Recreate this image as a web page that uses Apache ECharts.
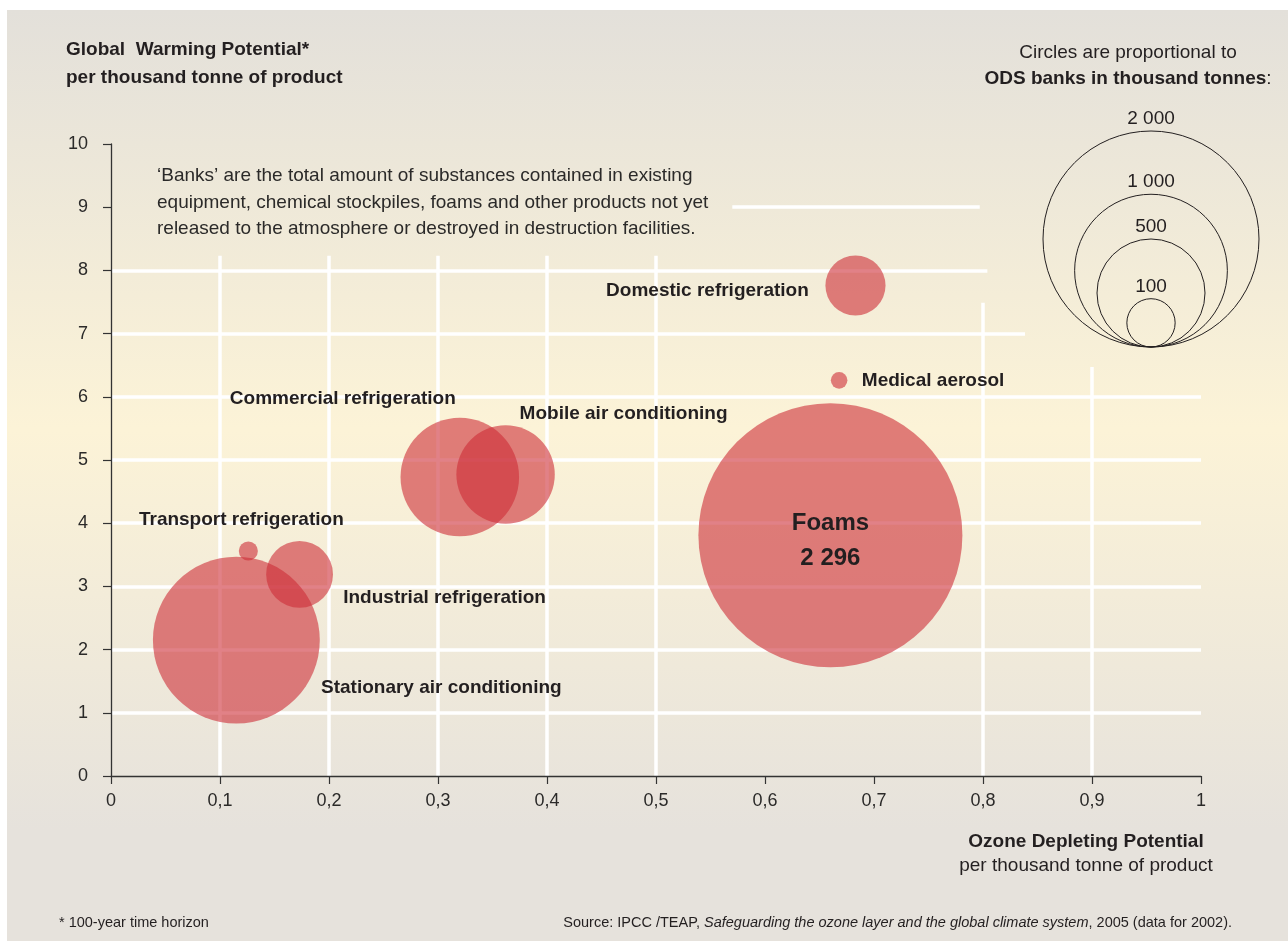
<!DOCTYPE html>
<html>
<head>
<meta charset="utf-8">
<title>ODS banks</title>
<script src="https://cdn.jsdelivr.net/npm/echarts@6.0.0/dist/echarts.min.js"></script>
<style>
  html, body { margin: 0; padding: 0; background: #fff; }
  #main { width: 1288px; height: 941px; }
</style>
</head>
<body>
<div id="main"></div>
<script>
// sectors, ODP (x), GWP (y), ODS banks in thousand tonnes (bubble area)
var sectors = ['Foams', 'Stationary air conditioning', 'Commercial refrigeration', 'Mobile air conditioning',
               'Industrial refrigeration', 'Domestic refrigeration', 'Transport refrigeration', 'Medical aerosol'];
var odp   = [0.660, 0.115, 0.320, 0.362, 0.173, 0.683, 0.126, 0.668];
var gwp   = [3.81, 2.15, 4.73, 4.77, 3.19, 7.76, 3.56, 6.26];
var banks = [2296, 917, 463, 319, 147, 119, 12, 9];

// size key
var legendBanks = [2000, 1000, 500, 100];

var xTickLabels = ['0', '0,1', '0,2', '0,3', '0,4', '0,5', '0,6', '0,7', '0,8', '0,9', '1'];
var yTickLabels = ['0', '1', '2', '3', '4', '5', '6', '7', '8', '9', '10'];

var FONT = '"Liberation Sans", Arial, Helvetica, sans-serif';
var INK = '#231f20';

// label placement relative to bubble centre (px)
var labelPlace = {
    'Foams': [0, 6],
    'Stationary air conditioning': [205, 48],
    'Commercial refrigeration': [-117, -78],
    'Mobile air conditioning': [118, -61],
    'Industrial refrigeration': [145, 23],
    'Domestic refrigeration': [-148, 5],
    'Transport refrigeration': [-7, -31],
    'Medical aerosol': [94, 0]
};

// the white grid is broken up around the notes, so draw it as segments
var hGrid = [[1, 0, 1], [2, 0, 1], [3, 0, 1], [4, 0, 1], [5, 0, 1], [6, 0, 1],
             [7, 0, 0.8385], [8, 0, 0.804], [9, 0.57, 0.797]];
var vGrid = [[0.1, 0, 8.23], [0.2, 0, 8.23], [0.3, 0, 8.23], [0.4, 0, 8.23], [0.5, 0, 8.23],
             [0.6, 0, 10.02], [0.7, 0, 10.02], [0.8, 0, 7.49], [0.9, 0, 6.47]];

function fmt(n) {
    return String(n).replace(/\B(?=(\d{3})+(?!\d))/g, ' ');
}
function bubbleSize(v) { return 264 * Math.sqrt(v / 2296); }
function keySize(v) { return 216 * Math.sqrt(v / 2000); }

var gridSegs = [];
hGrid.forEach(function (g) {
    gridSegs.push([{ coord: [g[1], g[0]] }, { coord: [g[2], g[0]] }]);
});
vGrid.forEach(function (g) {
    gridSegs.push([{ coord: [g[0], g[1]] }, { coord: [g[0], g[2]] }]);
});

var bubbleData = sectors.map(function (name, i) {
    return {
        name: name,
        value: [odp[i], gwp[i], banks[i]],
        label: { offset: labelPlace[name] }
    };
});

var keyData = legendBanks.map(function (v) {
    var s = keySize(v);
    return { value: [0, 0, v], symbolSize: s, symbolOffset: [0, -s / 2] };
});

var option = {
    animation: false,
    backgroundColor: '#ffffff',
    textStyle: { fontFamily: FONT },
    graphic: [
        {
            type: 'rect', z: -10, silent: true,
            shape: { x: 7, y: 10, width: 1281, height: 931 },
            style: {
                fill: new echarts.graphic.LinearGradient(0, 0, 0, 1, [
                    { offset: 0, color: '#e3e0da' },
                    { offset: 0.45, color: '#fcf3d7' },
                    { offset: 0.88, color: '#e6e2dc' },
                    { offset: 1, color: '#e6e2dc' }
                ])
            }
        },
        {
            type: 'text', x: 66, y: 50, silent: true,
            style: { text: 'Global  Warming Potential*', font: 'bold 19px ' + FONT, fill: INK, textVerticalAlign: 'middle' }
        },
        {
            type: 'text', x: 66, y: 78, silent: true,
            style: { text: 'per thousand tonne of product', font: 'bold 19px ' + FONT, fill: INK, textVerticalAlign: 'middle' }
        },
        {
            type: 'text', x: 1128, y: 53, silent: true,
            style: { text: 'Circles are proportional to', font: '19px ' + FONT, fill: INK, textAlign: 'center', textVerticalAlign: 'middle' }
        },
        {
            type: 'text', x: 1128, y: 79, silent: true,
            style: {
                text: '{b|ODS banks in thousand tonnes}{n|:}',
                textAlign: 'center', textVerticalAlign: 'middle',
                rich: {
                    b: { font: 'bold 19px ' + FONT, fill: INK },
                    n: { font: '19px ' + FONT, fill: INK }
                }
            }
        },
        {
            type: 'text', x: 157, y: 163, silent: true,
            style: {
                text: '\u2018Banks\u2019 are the total amount of substances contained in existing\n' +
                      'equipment, chemical stockpiles, foams and other products not yet\n' +
                      'released to the atmosphere or destroyed in destruction facilities.',
                font: '19px ' + FONT, fill: '#2b2a29', lineHeight: 26.5, textVerticalAlign: 'top'
            }
        },
        {
            type: 'text', x: 1086, y: 842, silent: true,
            style: { text: 'Ozone Depleting Potential', font: 'bold 19px ' + FONT, fill: INK, textAlign: 'center', textVerticalAlign: 'middle' }
        },
        {
            type: 'text', x: 1086, y: 866, silent: true,
            style: { text: 'per thousand tonne of product', font: '19px ' + FONT, fill: INK, textAlign: 'center', textVerticalAlign: 'middle' }
        },
        {
            type: 'text', x: 59, y: 923, silent: true,
            style: { text: '* 100-year time horizon', font: '14.5px ' + FONT, fill: INK, textVerticalAlign: 'middle' }
        },
        {
            type: 'text', x: 1232, y: 923, silent: true,
            style: {
                text: '{n|Source: IPCC /TEAP, }{i|Safeguarding the ozone layer and the global climate system}{n|, 2005 (data for 2002).}',
                textAlign: 'right', textVerticalAlign: 'middle',
                rich: {
                    n: { font: '14.5px ' + FONT, fill: INK },
                    i: { font: 'italic 14.5px ' + FONT, fill: INK }
                }
            }
        }
    ],
    grid: [
        { left: 111, right: 87, top: 144, bottom: 165 },
        { left: 1141, top: 337, width: 20, height: 20, show: false }
    ],
    xAxis: [
        {
            type: 'value', min: 0, max: 1, interval: 0.1, z: 5,
            axisLine: { show: true, lineStyle: { color: '#333', width: 1.3 } },
            axisTick: { show: true, length: 8, lineStyle: { color: '#333', width: 1.2 } },
            splitLine: { show: false },
            axisLabel: {
                margin: 16, fontSize: 18, color: '#2b2a29', fontFamily: FONT,
                formatter: function (v) { return xTickLabels[Math.round(v * 10)]; }
            }
        },
        { type: 'value', gridIndex: 1, min: -1, max: 1, show: false }
    ],
    yAxis: [
        {
            type: 'value', min: 0, max: 10, interval: 1, z: 5,
            axisLine: { show: true, lineStyle: { color: '#333', width: 1.3 } },
            axisTick: { show: true, length: 8, lineStyle: { color: '#333', width: 1.2 } },
            splitLine: { show: false },
            axisLabel: {
                margin: 23, fontSize: 18, color: '#2b2a29', fontFamily: FONT,
                formatter: function (v) { return yTickLabels[Math.round(v)]; }
            }
        },
        { type: 'value', gridIndex: 1, min: -1, max: 1, show: false }
    ],
    series: [
        {
            name: 'grid',
            type: 'scatter',
            z: 1,
            data: [],
            silent: true,
            markLine: {
                silent: true,
                z: 1,
                symbol: ['none', 'none'],
                label: { show: false },
                lineStyle: { color: '#ffffff', width: 3.5, type: 'solid', opacity: 1 },
                emphasis: { disabled: true },
                data: gridSegs
            }
        },
        {
            name: 'ODS banks',
            type: 'scatter',
            z: 3,
            clip: false,
            data: bubbleData,
            symbolSize: function (v) { return bubbleSize(v[2]); },
            itemStyle: { color: 'rgba(205,45,55,0.6)', opacity: 1 },
            emphasis: { disabled: true },
            label: {
                show: true,
                position: 'inside',
                fontFamily: FONT,
                fontSize: 19,
                fontWeight: 'bold',
                color: INK,
                formatter: function (p) {
                    if (p.name === 'Foams') {
                        return '{big|' + p.name + '}\n{big|' + fmt(p.value[2]) + '}';
                    }
                    return p.name;
                },
                rich: {
                    big: { fontFamily: FONT, fontSize: 24, fontWeight: 'bold', lineHeight: 35, color: INK }
                }
            }
        },
        {
            name: 'key',
            type: 'scatter',
            xAxisIndex: 1,
            yAxisIndex: 1,
            z: 3,
            clip: false,
            silent: true,
            data: keyData,
            itemStyle: { color: 'rgba(0,0,0,0)', borderColor: INK, borderWidth: 1, opacity: 1 },
            emphasis: { disabled: true },
            label: {
                show: true,
                position: 'top',
                distance: 2,
                fontFamily: FONT,
                fontSize: 19,
                color: INK,
                formatter: function (p) { return fmt(p.value[2]); }
            }
        }
    ]
};

var myChart = echarts.init(document.getElementById('main'));
myChart.setOption(option);
</script>
</body>
</html>
